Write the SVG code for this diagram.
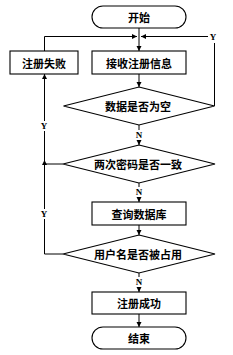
<svg xmlns="http://www.w3.org/2000/svg" width="233" height="355" viewBox="0 0 233 355">
<defs>
<style>
.s{fill:#fff;stroke:#000;stroke-width:1.1}
.l{fill:none;stroke:#000;stroke-width:1}
.t{font-family:"Noto Sans CJK SC","Noto Sans CJK JP",sans-serif;font-size:11px;font-weight:bold;text-anchor:middle;dominant-baseline:central;fill:#000}
.y{font-family:"Liberation Serif",serif;font-size:9px;font-weight:bold;text-anchor:middle;dominant-baseline:central;fill:#000}
</style>
<marker id="a" markerWidth="6" markerHeight="6" refX="5" refY="2.5" orient="auto" markerUnits="userSpaceOnUse">
<path d="M0,0 L5,2.5 L0,5 Z" fill="#000"/>
</marker>
</defs>
<rect width="233" height="355" fill="#fff"/>
<g id="connectors">
<path class="l" d="M139,28 V51" marker-end="url(#a)"/>
<path class="l" d="M139,74 V87" marker-end="url(#a)"/>
<path class="l" d="M214.5,106 V43"/>
<path class="l" d="M208,36.5 H141" marker-end="url(#a)"/>
<path class="l" d="M44.5,51 V36.5 H137" marker-end="url(#a)"/>
<path class="l" d="M139,125 V130"/>
<path class="l" d="M139,140 V145" marker-end="url(#a)"/>
<path class="l" d="M139,183 V187"/>
<path class="l" d="M139,197 V202" marker-end="url(#a)"/>
<path class="l" d="M139,225 V235" marker-end="url(#a)"/>
<path class="l" d="M139,273 V277"/>
<path class="l" d="M139,287 V292" marker-end="url(#a)"/>
<path class="l" d="M139,314 V327" marker-end="url(#a)"/>
<path class="l" d="M63,254 H44.5 V219"/>
<path class="l" d="M44.5,209 V131"/>
<path class="l" d="M44.5,121 V74" marker-end="url(#a)"/>
<path class="l" d="M63,164 H44.5"/>
<path class="l" d="M44.5,164 V160" marker-end="url(#a)"/>
<text class="y" x="213" y="36.5">Y</text>
<text class="y" x="139" y="135">N</text>
<text class="y" x="139" y="192">N</text>
<text class="y" x="139" y="282">N</text>
<text class="y" x="44" y="126">Y</text>
<text class="y" x="44" y="214">Y</text>
</g>
<g id="start">
<rect class="s" x="92" y="6" width="94" height="22" rx="11"/>
<text class="t" x="139" y="17">开始</text>
</g>
<g id="receive">
<rect class="s" x="92" y="51" width="94" height="23"/>
<text class="t" x="139" y="62.5">接收注册信息</text>
</g>
<g id="fail">
<rect class="s" x="10" y="51" width="68" height="23"/>
<text class="t" x="44" y="62.5">注册失败</text>
</g>
<g id="empty">
<polygon class="s" points="139,87 214.5,106 139,125 63.5,106"/>
<text class="t" x="138" y="106">数据是否为空</text>
</g>
<g id="pwd">
<polygon class="s" points="139,145 215,164 139,183 63,164"/>
<text class="t" x="138" y="164">两次密码是否一致</text>
</g>
<g id="query">
<rect class="s" x="92" y="202" width="94" height="23"/>
<text class="t" x="139" y="213.5">查询数据库</text>
</g>
<g id="used">
<polygon class="s" points="139,235 215,254 139,273 63,254"/>
<text class="t" x="138" y="254">用户名是否被占用</text>
</g>
<g id="success">
<rect class="s" x="92" y="292" width="94" height="22"/>
<text class="t" x="139" y="303">注册成功</text>
</g>
<g id="end">
<rect class="s" x="92" y="327" width="94" height="22" rx="11"/>
<text class="t" x="139" y="338">结束</text>
</g>
</svg>
